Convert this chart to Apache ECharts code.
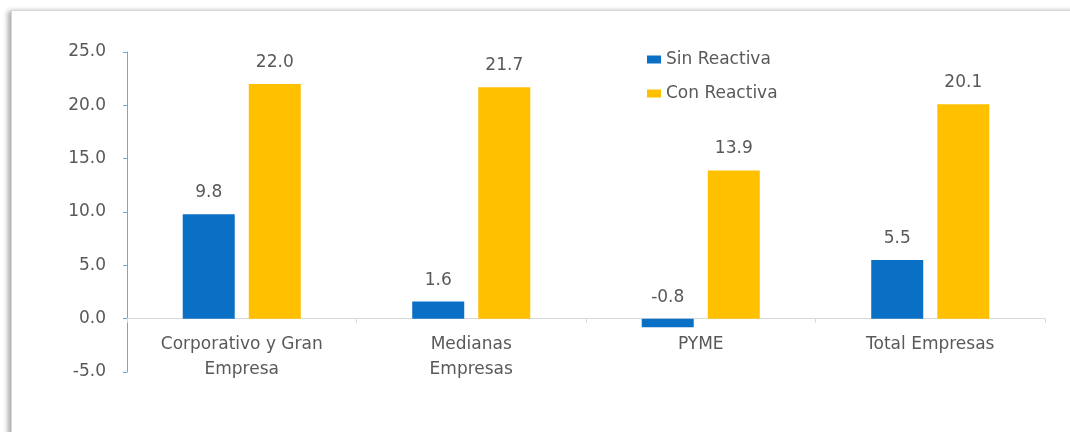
<!DOCTYPE html>
<html>
<head>
<meta charset="utf-8">
<script src="https://cdn.jsdelivr.net/npm/echarts@6/dist/echarts.min.js"></script>
<style>
  html, body {
    margin: 0;
    padding: 0;
    background: #fff;
  }
  .frame {
    position: absolute;
    left: 11px;
    top: 10px;
    width: 1080px;
    height: 450px;
    border: 1px solid #d8d8d8;
    box-shadow: -3px 1px 5px rgba(0, 0, 0, 0.35);
    background: #fff;
  }
  #chart {
    position: absolute;
    left: 0;
    top: 0;
    width: 1070px;
    height: 432px;
  }
</style>
</head>
<body>
<div class="frame"></div>
<div id="chart"></div>
<script>
const categories = ['Corporativo y Gran\nEmpresa', 'Medianas\nEmpresas', 'PYME', 'Total Empresas']
const sinReactiva = [9.8, 1.6, -0.8, 5.5]
const conReactiva = [22.0, 21.7, 13.9, 20.1]

const chart = echarts.init(document.getElementById('chart'))
const textColor = '#595959'
const font = 'DejaVu Sans, sans-serif'
const fontSize = 17

let option = {
  animation: false,
  textStyle: {fontFamily: font},
  legend: {
    orient: 'vertical',
    left: 642,
    top: 46,
    itemWidth: 14,
    itemHeight: 8,
    itemGap: 17,
    icon: 'rect',
    textStyle: {color: textColor, fontSize: fontSize, fontFamily: font},
    data: ['Sin Reactiva', 'Con Reactiva']
  },
  grid: {
    left: 127,
    right: 25,
    top: 52,
    bottom: 60
  },
  xAxis: {
    type: 'category',
    data: categories,
    axisLine: {onZero: true, lineStyle: {color: '#d9d9d9'}},
    axisTick: {show: true, length: 4, lineStyle: {color: '#d9d9d9'}},
    axisLabel: {
      color: textColor,
      fontSize: fontSize,
      lineHeight: 25,
      margin: -40,
      interval: 0,
      fontFamily: font
    }
  },
  yAxis: {
    type: 'value',
    min: -5,
    max: 25,
    interval: 5,
    axisLine: {show: true, lineStyle: {color: '#6fa8e0'}},
    axisTick: {show: true, length: 4, lineStyle: {color: '#6fa8e0'}},
    splitLine: {show: false},
    axisLabel: {
      color: textColor,
      fontSize: fontSize,
      margin: 21,
      fontFamily: font,
      formatter: v => v.toFixed(1)
    }
  },
  series: [
    {
      name: 'Sin Reactiva',
      type: 'bar',
      data: sinReactiva,
      barWidth: 52,
      barGap: '27%',
      itemStyle: {color: '#0a70c6'},
      label: {
        show: true,
        position: 'top',
        distance: 13,
        color: textColor,
        fontSize: fontSize,
        fontFamily: font,
        formatter: p => p.value.toFixed(1)
      }
    },
    {
      name: 'Con Reactiva',
      type: 'bar',
      data: conReactiva,
      barWidth: 52,
      barGap: '27%',
      itemStyle: {color: '#ffc000'},
      label: {
        show: true,
        position: 'top',
        distance: 13,
        color: textColor,
        fontSize: fontSize,
        fontFamily: font,
        formatter: p => p.value.toFixed(1)
      }
    }
  ]
}
chart.setOption(option)
</script>
</body>
</html>
